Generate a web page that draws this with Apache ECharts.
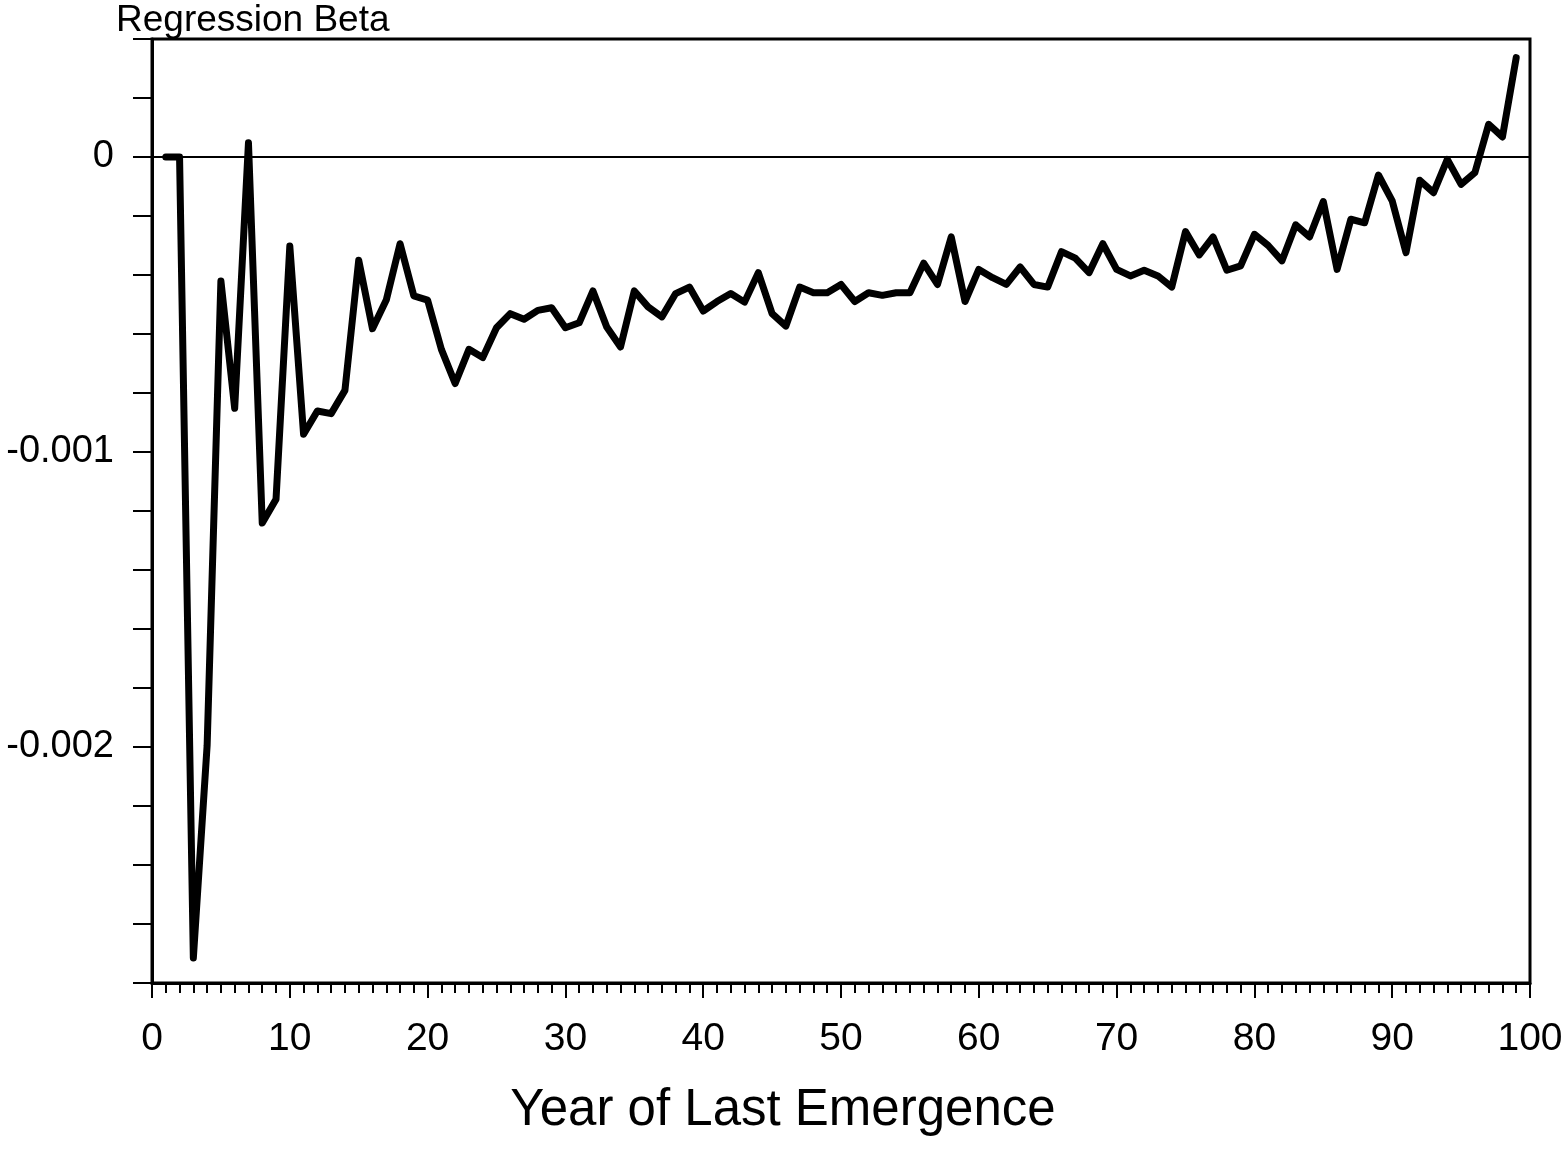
<!DOCTYPE html>
<html>
<head>
<meta charset="utf-8">
<script src="https://cdn.jsdelivr.net/npm/echarts@6/dist/echarts.min.js"></script>
<style>
html,body{margin:0;padding:0;background:#fff;}
#chart{width:1567px;height:1152px;}
</style>
</head>
<body>
<div id="chart"></div>
<script>
var years = [1,2,3,4,5,6,7,8,9,10,11,12,13,14,15,16,17,18,19,20,
  21,22,23,24,25,26,27,28,29,30,31,32,33,34,35,36,37,38,39,40,
  41,42,43,44,45,46,47,48,49,50,51,52,53,54,55,56,57,58,59,60,
  61,62,63,64,65,66,67,68,69,70,71,72,73,74,75,76,77,78,79,80,
  81,82,83,84,85,86,87,88,89,90,91,92,93,94,95,96,97,98,99];
var beta = [0,0,-0.002715,-0.001995,-0.000420,-0.000852,0.000048,-0.001241,-0.001160,-0.000302,
  -0.000940,-0.000861,-0.000870,-0.000791,-0.000350,-0.000582,-0.000485,-0.000294,-0.000471,-0.000485,
  -0.000652,-0.000768,-0.000652,-0.000680,-0.000579,-0.000531,-0.000550,-0.000520,-0.000511,-0.000579,
  -0.000562,-0.000454,-0.000576,-0.000644,-0.000454,-0.000508,-0.000542,-0.000463,-0.000441,-0.000522,
  -0.000490,-0.000463,-0.000492,-0.000392,-0.000531,-0.000573,-0.000441,-0.000460,-0.000460,-0.000432,
  -0.000490,-0.000460,-0.000469,-0.000460,-0.000460,-0.000360,-0.000432,-0.000271,-0.000490,-0.000381,
  -0.000409,-0.000432,-0.000373,-0.000432,-0.000441,-0.000321,-0.000343,-0.000392,-0.000294,-0.000381,
  -0.000403,-0.000384,-0.000403,-0.000441,-0.000253,-0.000332,-0.000271,-0.000384,-0.000369,-0.000262,
  -0.000300,-0.000352,-0.000230,-0.000271,-0.000151,-0.000381,-0.000211,-0.000223,-0.000061,-0.000149,
  -0.000324,-0.000079,-0.000121,-0.000008,-0.000093,-0.000053,0.000111,0.000068,0.000337];
var yLabelValues = ['0','-0.001','-0.002'];

var FONT = '"Liberation Sans", Arial, sans-serif';
var points = years.map(function(x, i){ return [x, beta[i]]; });

var chart = echarts.init(document.getElementById('chart'), null, {renderer:'canvas'});
chart.setOption({
  backgroundColor: '#ffffff',
  animation: false,
  title: {
    text: 'Regression Beta',
    left: 116, top: 2, padding: 0,
    textStyle: {fontFamily: FONT, fontSize: 37, fontWeight: 'normal', color: '#000'}
  },
  grid: {
    left: 152, top: 39, right: 37, bottom: 169,
    show: true, borderColor: '#000', borderWidth: 3, backgroundColor: 'transparent'
  },
  xAxis: {
    type: 'value', min: 0, max: 100, interval: 10,
    name: 'Year of Last Emergence',
    nameLocation: 'middle', nameGap: 102,
    nameTextStyle: {fontFamily: FONT, fontSize: 51, color: '#000', padding: [0, 116, 0, 0]},
    axisLine: {show: true, onZero: false, lineStyle: {color: '#000', width: 3}},
    axisTick: {show: true, length: 15, lineStyle: {color: '#000', width: 2}},
    minorTick: {show: true, splitNumber: 10, length: 10, lineStyle: {color: '#000', width: 2}},
    axisLabel: {fontFamily: FONT, fontSize: 39, color: '#000', margin: 37, showMaxLabel: true, showMinLabel: true},
    splitLine: {show: false}
  },
  yAxis: {
    type: 'value', min: -0.0028, max: 0.0004, interval: 0.0002,
    axisLine: {show: true, onZero: false, lineStyle: {color: '#000', width: 3}},
    axisTick: {show: true, length: 19, lineStyle: {color: '#000', width: 2}},
    axisLabel: {
      fontFamily: FONT, fontSize: 38, color: '#000', margin: 38,
      formatter: function(v){
        var k = v / 0.001;
        if (Math.abs(k - Math.round(k)) > 1e-6) return '';
        var idx = -Math.round(k);
        return (idx >= 0 && idx < yLabelValues.length) ? yLabelValues[idx] : '';
      }
    },
    splitLine: {show: false}
  },
  series: [{
    type: 'line',
    data: points,
    showSymbol: false,
    symbol: 'none',
    lineStyle: {color: '#000', width: 7, cap: 'round', join: 'round'},
    markLine: {
      silent: true, symbol: 'none',
      label: {show: false},
      lineStyle: {color: '#000', width: 2, type: 'solid'},
      data: [{yAxis: 0}]
    }
  }]
});
</script>
</body>
</html>
